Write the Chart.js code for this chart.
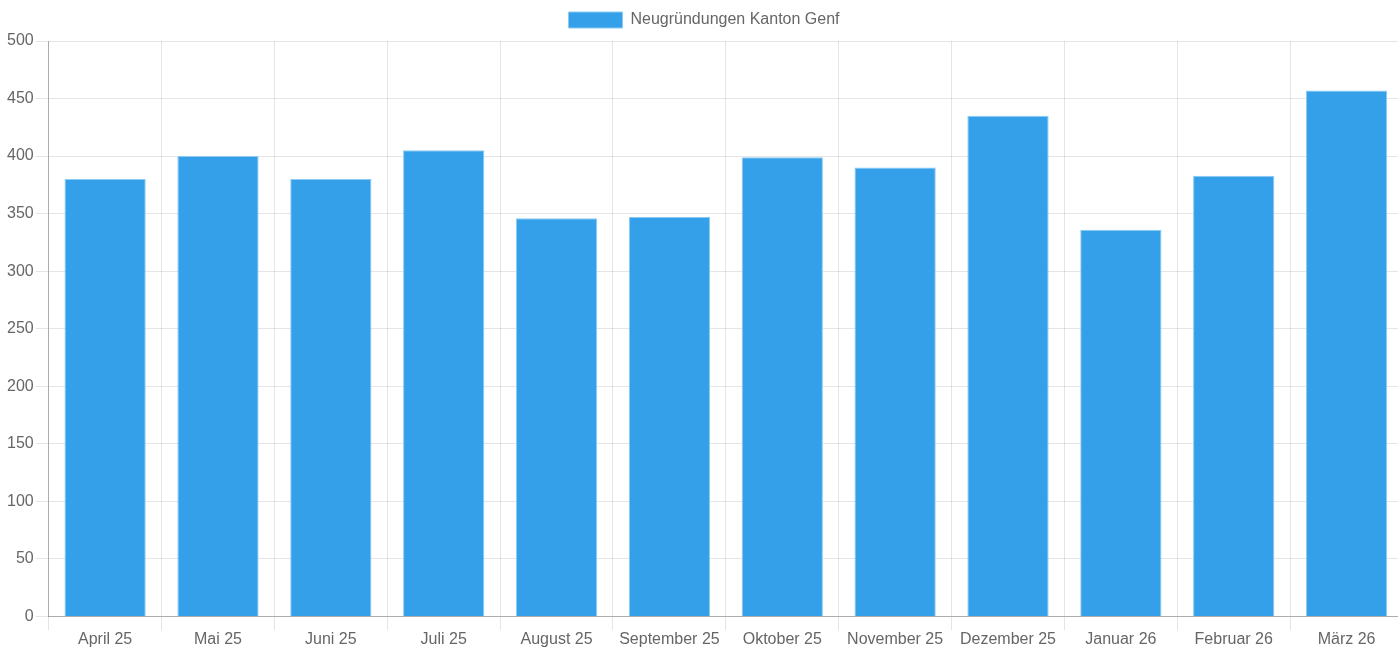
<!DOCTYPE html>
<html>
<head>
<meta charset="utf-8">
<script src="https://cdn.jsdelivr.net/npm/chart.js@4/dist/chart.umd.min.js"></script>
<style>
html,body{margin:0;padding:0;background:#fff;overflow:hidden;}
#wrap{width:1407px;height:648px;position:relative;}
</style>
</head>
<body>
<div id="wrap"><canvas id="c"></canvas></div>
<script>
const categories = ["April 25","Mai 25","Juni 25","Juli 25","August 25","September 25","Oktober 25","November 25","Dezember 25","Januar 26","Februar 26","März 26"];
const seriesLabel = "Neugründungen Kanton Genf";
const values = [380, 400, 380, 405, 346, 347, 399, 390, 435, 336, 383, 457];
const yTicks = [0, 50, 100, 150, 200, 250, 300, 350, 400, 450, 500];

Chart.defaults.font.family = "'Liberation Sans', Arial, sans-serif";
Chart.defaults.font.size = 16;
Chart.defaults.color = "#666";

const legendSpacer = {
  id: 'legendSpacer',
  beforeInit(chart) {
    const origFit = chart.legend.fit;
    chart.legend.fit = function () {
      origFit.call(this);
      this.height += 3;
    };
  }
};

new Chart(document.getElementById('c'), {
  type: 'bar',
  data: {
    labels: categories,
    datasets: [{
      label: seriesLabel,
      data: values,
      backgroundColor: '#33a0e9',
      borderColor: '#8ccaf3',
      borderWidth: 1
    }]
  },
  options: {
    responsive: true,
    maintainAspectRatio: false,
    animation: false,
    layout: { padding: { left: 5, right: 4, top: 1, bottom: 0 } },
    plugins: {
      legend: {
        labels: { boxWidth: 54, boxHeight: 16, padding: 11, color: '#666' }
      },
      tooltip: { enabled: false }
    },
    scales: {
      x: {
        grid: { color: 'rgba(0,0,0,0.1)', tickLength: 14, offset: true },
        border: { color: 'rgba(0,0,0,0.25)' },
        ticks: { padding: 0, maxRotation: 0, autoSkip: false, color: '#666', font: { size: 16, lineHeight: 1.1 } }
      },
      y: {
        min: yTicks[0],
        max: yTicks[yTicks.length - 1],
        afterBuildTicks: (axis) => { axis.ticks = yTicks.map(v => ({ value: v })); },
        grid: { color: 'rgba(0,0,0,0.1)', tickLength: 13 },
        border: { color: 'rgba(0,0,0,0.25)' },
        ticks: { padding: 2, color: '#666' }
      }
    }
  },
  plugins: [legendSpacer]
});
</script>
</body>
</html>
